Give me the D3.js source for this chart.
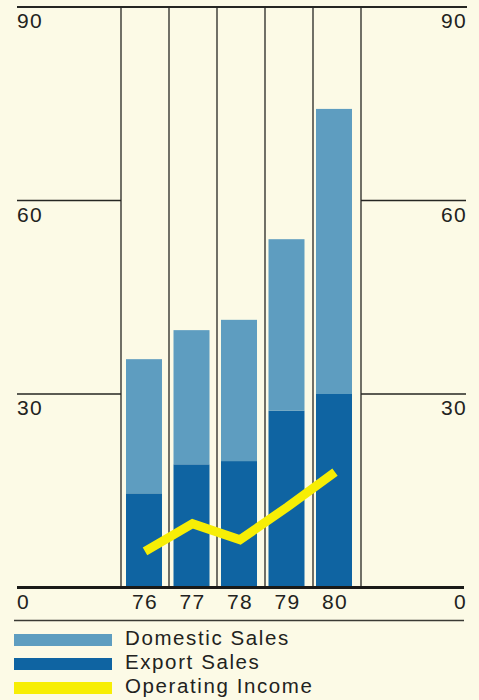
<!DOCTYPE html>
<html>
<head>
<meta charset="utf-8">
<script src="https://cdn.jsdelivr.net/npm/d3@7"></script>
<style>
  html, body { margin: 0; padding: 0; background: #fcfae6; }
  svg { display: block; }
  text { font-family: "Liberation Sans", Arial, Helvetica, sans-serif; fill: #222220; }
</style>
</head>
<body>
<svg id="chart" width="479" height="700"></svg>
<script>
// Sales and income by year (billions)
const years = ["76", "77", "78", "79", "80"];
const exportSales = [14.6, 19.1, 19.6, 27.4, 30.0];
const domesticSales = [20.8, 20.8, 21.9, 26.6, 44.2];
const operatingIncome = [5.6, 9.9, 7.4, 12.5, 17.9];
const yTicks = [0, 30, 60, 90];
const legendLabels = ["Domestic Sales", "Export Sales", "Operating Income"];

const colors = {
  domestic: "#5e9dc0",
  export: "#0f64a2",
  income: "#f7ee05",
  rule: "#262622"
};

const svg = d3.select("#chart");

const y = d3.scaleLinear().domain([0, 90]).range([587.5, 7]);

// Column frame: one slot per year between the vertical rules
const xSlot = d3.scaleBand().domain(years).range([121, 361]).padding(0);
// Bars sit inside the slots
const xBar = d3.scaleBand().domain(years).range([126, 352]).paddingInner(0.242).paddingOuter(0);

const rows = years.map((yr, i) => ({ year: yr, export: exportSales[i], domestic: domesticSales[i] }));
const stacked = d3.stack().keys(["export", "domestic"])(rows);

// Horizontal rules: full width at the top, side segments for 30/60
const leftX0 = 17, leftX1 = 121, rightX0 = 361, rightX1 = 466;
svg.append("line")
  .attr("x1", leftX0).attr("x2", 467)
  .attr("y1", y(90)).attr("y2", y(90))
  .attr("stroke", colors.rule).attr("stroke-width", 2.2);

[30, 60].forEach(v => {
  svg.append("line").attr("x1", leftX0).attr("x2", leftX1)
    .attr("y1", y(v)).attr("y2", y(v))
    .attr("stroke", colors.rule).attr("stroke-width", 1.4);
  svg.append("line").attr("x1", rightX0).attr("x2", rightX1)
    .attr("y1", y(v)).attr("y2", y(v))
    .attr("stroke", colors.rule).attr("stroke-width", 1.4);
});

// Vertical rules at slot edges
const edges = years.map(d => xSlot(d)).concat([xSlot(years[years.length - 1]) + xSlot.bandwidth()]);
svg.append("g").selectAll("line").data(edges).join("line")
  .attr("x1", d => d).attr("x2", d => d)
  .attr("y1", y(90)).attr("y2", y(0))
  .attr("stroke", colors.rule).attr("stroke-width", 1.3);

// Stacked bars
const barColors = { export: colors.export, domestic: colors.domestic };
svg.append("g").selectAll("g").data(stacked).join("g")
  .attr("fill", d => barColors[d.key])
  .selectAll("rect").data(d => d).join("rect")
  .attr("x", d => xBar(d.data.year))
  .attr("width", xBar.bandwidth())
  .attr("y", d => y(d[1]))
  .attr("height", d => y(d[0]) - y(d[1]));

// Operating income line
const line = d3.line()
  .x((d, i) => xBar(years[i]) + xBar.bandwidth() / 2 + 1)
  .y(d => y(d));
svg.append("path")
  .datum(operatingIncome)
  .attr("d", line)
  .attr("fill", "none")
  .attr("stroke", colors.income)
  .attr("stroke-width", 9)
  .attr("stroke-linejoin", "miter")
  .attr("stroke-linecap", "butt");

// Baseline
svg.append("line")
  .attr("x1", leftX0).attr("x2", 464)
  .attr("y1", y(0)).attr("y2", y(0))
  .attr("stroke", "#1a1a18").attr("stroke-width", 3);

// Y labels on both sides
const labelStyle = sel => sel.attr("font-size", 21).attr("letter-spacing", 1.3);
svg.append("g").selectAll("text").data(yTicks).join("text")
  .call(labelStyle)
  .attr("x", leftX0)
  .attr("y", d => y(d) + 21)
  .text(d => d);
svg.append("g").selectAll("text").data(yTicks).join("text")
  .call(labelStyle)
  .attr("text-anchor", "end")
  .attr("x", rightX1 + 1)
  .attr("y", d => y(d) + 21)
  .text(d => d);

// Year labels
svg.append("g").selectAll("text").data(years).join("text")
  .call(labelStyle)
  .attr("text-anchor", "middle")
  .attr("x", d => xBar(d) + xBar.bandwidth() / 2 + 1)
  .attr("y", y(0) + 21)
  .text(d => d);

// Separator above the legend
svg.append("line")
  .attr("x1", 14).attr("x2", 464)
  .attr("y1", 620.5).attr("y2", 620.5)
  .attr("stroke", "#3a3a34").attr("stroke-width", 1.4);

// Legend
const legendColors = [colors.domestic, colors.export, colors.income];
const legend = svg.append("g").selectAll("g").data(legendLabels).join("g")
  .attr("transform", (d, i) => `translate(14, ${634 + i * 24})`);
legend.append("rect")
  .attr("width", 98).attr("height", 12)
  .attr("fill", (d, i) => legendColors[i]);
legend.append("text")
  .attr("x", 111).attr("y", 10.5)
  .attr("font-size", 20.5).attr("letter-spacing", 1.6)
  .text(d => d);
</script>
</body>
</html>
